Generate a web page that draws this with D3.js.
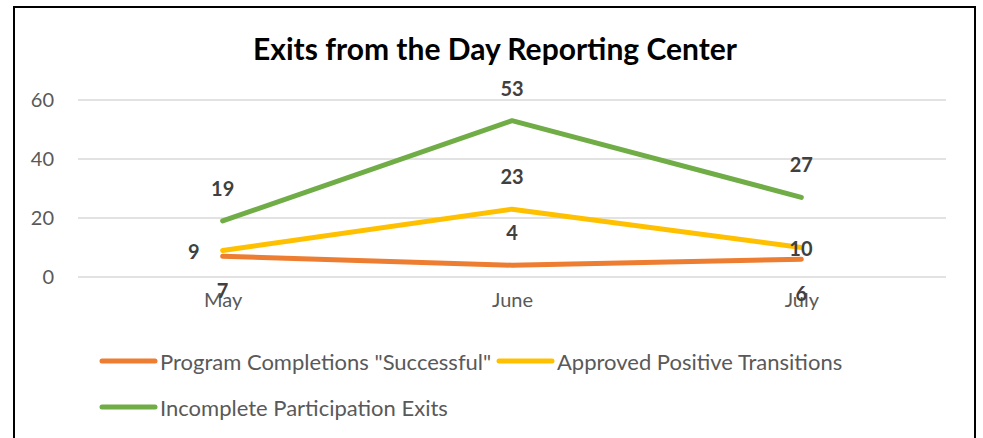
<!DOCTYPE html>
<html>
<head>
<meta charset="utf-8">
<script src="https://cdn.jsdelivr.net/npm/d3@7"></script>
<style>
  body { margin: 0; background: #fff; }
  text { font-family: Lato, "Open Sans", sans-serif; }
</style>
</head>
<body>
<div id="chart"></div>
<script>
// data
var months = ['May', 'June', 'July'];
var completions = [7, 4, 6];
var transitions = [9, 23, 10];
var incomplete = [19, 53, 27];
var yTicks = [0, 20, 40, 60];
var seriesNames = ['Program Completions "Successful"', 'Approved Positive Transitions', 'Incomplete Participation Exits'];

var colors = ['#ED7D31', '#FFC000', '#70AD47'];
// label placement for each series, per point
var labelPos = [
  ['below', 'above', 'below'],
  ['left', 'above', 'right'],
  ['above', 'above', 'above']
];

var width = 983, height = 438;

var svg = d3.select('#chart').append('svg')
    .attr('width', width)
    .attr('height', height);

// outer frame
svg.append('rect')
    .attr('x', 14).attr('y', 7)
    .attr('width', 961).attr('height', 460)
    .attr('fill', 'none')
    .attr('stroke', '#000')
    .attr('stroke-width', 2);

svg.append('text')
    .attr('x', 495).attr('y', 60)
    .attr('text-anchor', 'middle')
    .attr('font-size', '30px')
    .attr('font-weight', 'bold')
    .attr('fill', '#000')
    .text('Exits from the Day Reporting Center');

var x = d3.scalePoint().domain(months).range([78, 946]).padding(0.5);
var y = d3.scaleLinear().domain([0, 60]).range([277, 100]);

// gridlines
svg.append('g').selectAll('line')
    .data(yTicks)
    .enter().append('line')
    .attr('x1', 78).attr('x2', 946)
    .attr('y1', function(d) { return y(d); })
    .attr('y2', function(d) { return y(d); })
    .attr('stroke', '#d9d9d9')
    .attr('stroke-width', 1.3);

// y axis labels
var yAxis = svg.append('g')
    .attr('transform', 'translate(54,0)')
    .call(d3.axisLeft(y).tickValues(yTicks).tickSize(0).tickPadding(0));
yAxis.select('.domain').remove();
yAxis.selectAll('text')
    .attr('font-family', 'Lato, "Open Sans", sans-serif')
    .attr('font-size', '20px')
    .attr('fill', '#595959');

// x axis labels
var xAxis = svg.append('g')
    .attr('transform', 'translate(0,307)')
    .call(d3.axisBottom(x).tickSize(0).tickPadding(0));
xAxis.select('.domain').remove();
xAxis.selectAll('text')
    .attr('dy', 0)
    .attr('font-family', 'Lato, "Open Sans", sans-serif')
    .attr('font-size', '20px')
    .attr('fill', '#595959');

var series = [completions, transitions, incomplete];

var line = d3.line()
    .x(function(d, i) { return x(months[i]); })
    .y(function(d) { return y(d); });

series.forEach(function(s, k) {
  svg.append('path')
      .datum(s)
      .attr('d', line)
      .attr('fill', 'none')
      .attr('stroke', colors[k])
      .attr('stroke-width', 5)
      .attr('stroke-linecap', 'round')
      .attr('stroke-linejoin', 'round');
});

// data labels
series.forEach(function(s, k) {
  svg.append('g').selectAll('text')
      .data(s)
      .enter().append('text')
      .attr('x', function(d, i) {
        var p = labelPos[k][i];
        if (p == 'left') return x(months[i]) - 23;
        if (p == 'right') return x(months[i]) - 12;
        return x(months[i]);
      })
      .attr('y', function(d, i) {
        var p = labelPos[k][i];
        if (p == 'above') return y(d) - 25;
        if (p == 'below') return y(d) + 42;
        return y(d) + 8.5;
      })
      .attr('text-anchor', function(d, i) {
        var p = labelPos[k][i];
        return p == 'left' ? 'end' : (p == 'right' ? 'start' : 'middle');
      })
      .attr('font-size', '20px')
      .attr('font-weight', 'bold')
      .attr('fill', '#404040')
      .text(function(d) { return d; });
});

// legend
var legendItems = [
  {x: 100, y: 361},
  {x: 497, y: 361},
  {x: 100, y: 407}
];
legendItems.forEach(function(p, k) {
  svg.append('line')
      .attr('x1', p.x + 2).attr('x2', p.x + 55)
      .attr('y1', p.y).attr('y2', p.y)
      .attr('stroke', colors[k])
      .attr('stroke-width', 5)
      .attr('stroke-linecap', 'round');
  svg.append('text')
      .attr('x', p.x + 60).attr('y', p.y + 9)
      .attr('font-size', '22px')
      .attr('fill', '#595959')
      .text(seriesNames[k]);
});
</script>
</body>
</html>
